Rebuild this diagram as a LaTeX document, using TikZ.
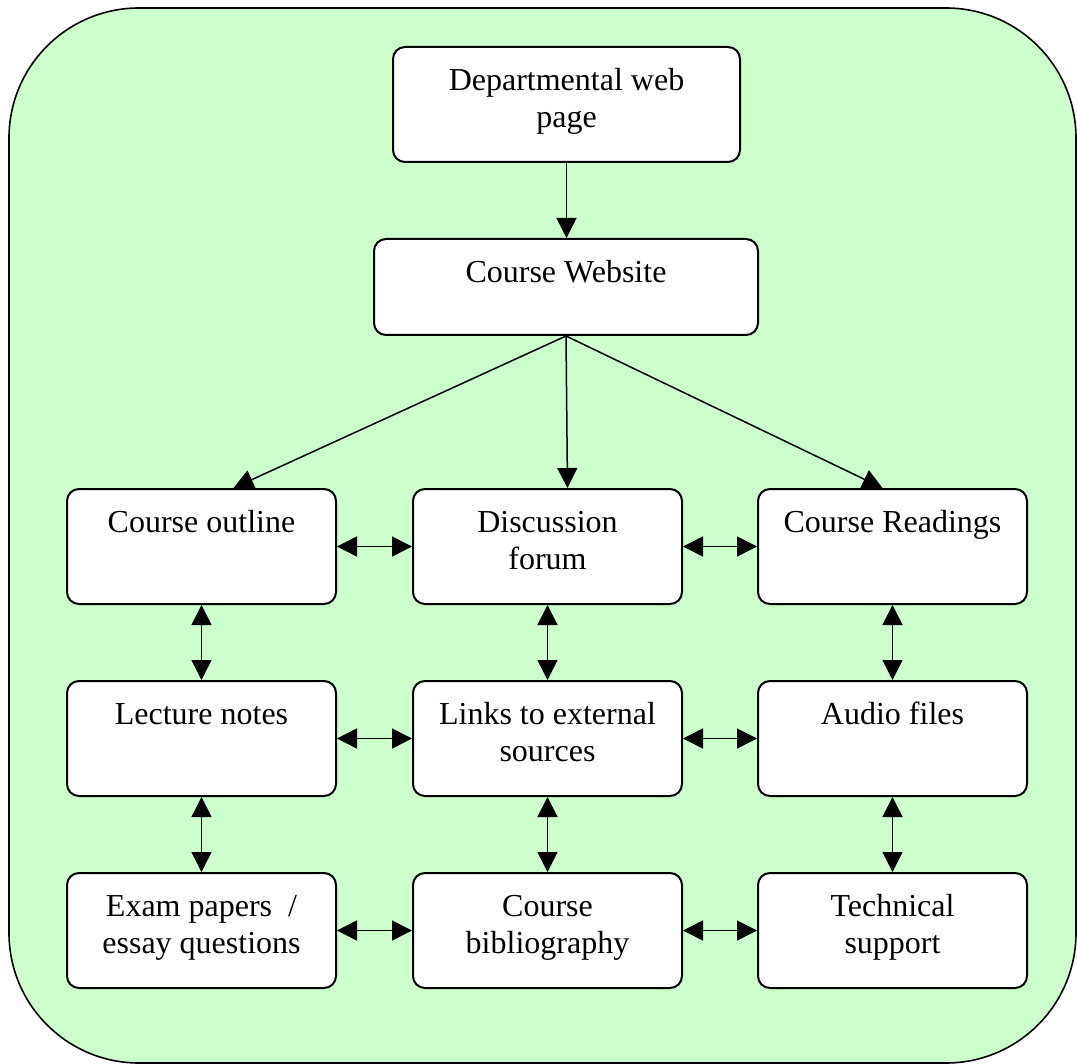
\documentclass[tikz,border=0pt]{standalone}
\usepackage{fontspec}
\setmainfont{Liberation Serif}
\usetikzlibrary{arrows.meta,calc}
\definecolor{mint}{HTML}{CCFFCC}
\newcommand{\webbox}[6]{%
 \node[box,minimum width=#4,minimum height=#5] (#1) at (#2,#3) {};
 \node[boxtext] (#1-t) at ([yshift=-9pt]#1.north) {\strut#6};
}

\begin{document}
\begin{tikzpicture}[x=0.5pt,y=-0.5pt,
 box/.style={draw,line width=1pt,rounded corners=6pt,fill=white,inner sep=0pt},
 boxtext/.style={anchor=north,align=center,inner sep=0pt,font=\fontsize{16}{18.5}\selectfont},
 link/.style={line width=0.75pt},
 >={Triangle[length=10pt,width=10pt]}]
 \useasboundingbox (0,0) rectangle (1077,1064);
 \draw[fill=mint,line width=0.8pt,rounded corners=65pt] (9,8) rectangle (1076,1063); %背景
 \webbox{dept}{566.5}{104.5}{173.5pt}{57.5pt}{Departmental web\\page} %学科ページ
 \webbox{site}{566}{287}{192pt}{48pt}{Course Website} %コースサイト
 \webbox{outline}{201.5}{546.5}{134.5pt}{57.5pt}{Course outline} %1段目
 \webbox{forum}{547.5}{546.5}{134.5pt}{57.5pt}{Discussion\\forum}
 \webbox{readings}{892.5}{546.5}{134.5pt}{57.5pt}{Course Readings}
 \webbox{notes}{201.5}{738.5}{134.5pt}{57.5pt}{Lecture notes} %2段目
 \webbox{links}{547.5}{738.5}{134.5pt}{57.5pt}{Links to external\\sources}
 \webbox{audio}{892.5}{738.5}{134.5pt}{57.5pt}{Audio files}
 \webbox{exam}{201.5}{930.5}{134.5pt}{57.5pt}{Exam papers\ \ /\\essay questions} %3段目
 \webbox{biblio}{547.5}{930.5}{134.5pt}{57.5pt}{Course\\bibliography}
 \webbox{support}{892.5}{930.5}{134.5pt}{57.5pt}{Technical\\support}
 \draw[link,->] (dept.south) -- (dept.south |- site.north); %学科→サイト
 \draw[link,->] (site.south) -- ([xshift=16pt]outline.north); %サイト→1段目
 \draw[link,->] (site.south) -- ([xshift=10pt]forum.north);
 \draw[link,->] (site.south) -- ([xshift=-5pt]readings.north);
 \draw[link,<->] (outline) -- (forum); %横の矢印
 \draw[link,<->] (forum) -- (readings);
 \draw[link,<->] (notes) -- (links);
 \draw[link,<->] (links) -- (audio);
 \draw[link,<->] (exam) -- (biblio);
 \draw[link,<->] (biblio) -- (support);
 \draw[link,<->] (outline) -- (notes); %縦の矢印
 \draw[link,<->] (notes) -- (exam);
 \draw[link,<->] (forum) -- (links);
 \draw[link,<->] (links) -- (biblio);
 \draw[link,<->] (readings) -- (audio);
 \draw[link,<->] (audio) -- (support);
\end{tikzpicture}
\end{document}
